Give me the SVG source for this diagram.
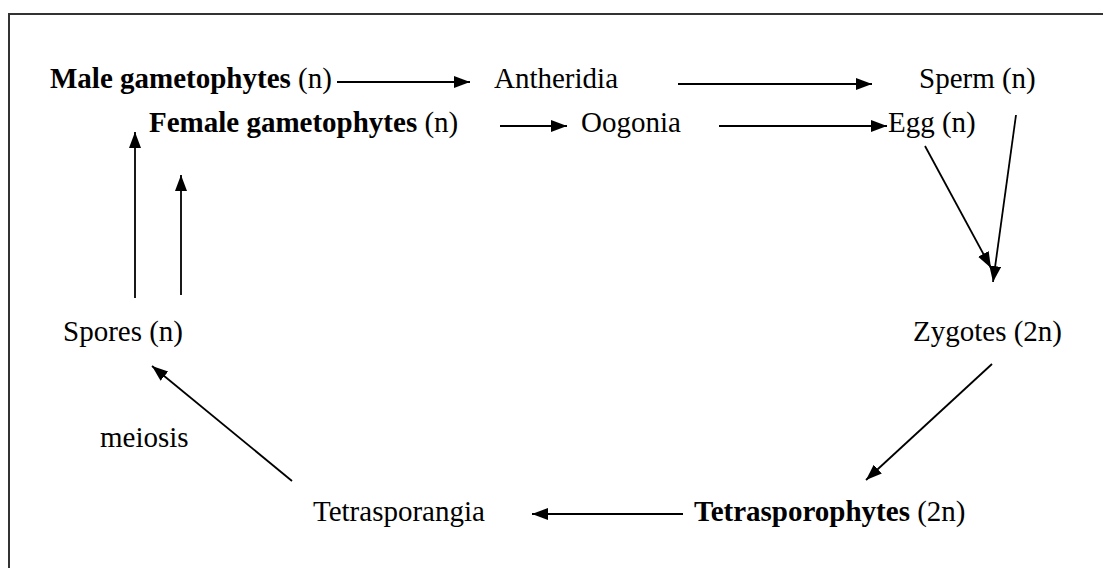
<svg xmlns="http://www.w3.org/2000/svg" width="1103" height="568" viewBox="0 0 1103 568">
<style>
text{font-family:"Liberation Serif","Times New Roman",serif;font-size:29px;fill:#000}
.b{font-weight:bold}
.c line{stroke:#000;stroke-width:1.8;marker-end:url(#ah)}
</style>
<defs>
<marker id="ah" markerUnits="userSpaceOnUse" markerWidth="18" markerHeight="14" refX="16" refY="6" orient="auto"><path d="M0,0 L16,6 L0,12 z" fill="#000"/></marker>
</defs>
<rect x="9" y="14" width="1200" height="700" fill="#fff" stroke="#333" stroke-width="2"/>
<g id="male"><text x="50" y="88"><tspan class="b">Male gametophytes</tspan> (n)</text></g>
<g id="antheridia"><text x="494" y="88">Antheridia</text></g>
<g id="sperm"><text x="919" y="88">Sperm (n)</text></g>
<g id="female"><text x="149" y="132"><tspan class="b">Female gametophytes</tspan> (n)</text></g>
<g id="oogonia"><text x="581" y="132">Oogonia</text></g>
<g id="egg"><text x="888" y="132">Egg (n)</text></g>
<g id="zygotes"><text x="913" y="341">Zygotes (2n)</text></g>
<g id="spores"><text x="63" y="341">Spores (n)</text></g>
<g id="meiosis"><text x="100" y="447">meiosis</text></g>
<g id="tetrasporangia"><text x="313" y="521">Tetrasporangia</text></g>
<g id="tetrasporophytes"><text x="694" y="521"><tspan class="b">Tetrasporophytes</tspan> (2n)</text></g>
<g id="connectors" class="c">
<line x1="337" y1="82" x2="470" y2="82"/>
<line x1="678" y1="84" x2="872" y2="84"/>
<line x1="500" y1="126" x2="567" y2="126"/>
<line x1="719" y1="126" x2="887" y2="126"/>
<line x1="1016" y1="115" x2="993" y2="282"/>
<line x1="925" y1="146" x2="991" y2="268"/>
<line x1="992" y1="364" x2="866" y2="480"/>
<line x1="683" y1="514" x2="532" y2="514"/>
<line x1="292" y1="481" x2="152" y2="366"/>
<line x1="135" y1="298" x2="135" y2="132"/>
<line x1="181" y1="295" x2="181" y2="175"/>
</g>
</svg>
